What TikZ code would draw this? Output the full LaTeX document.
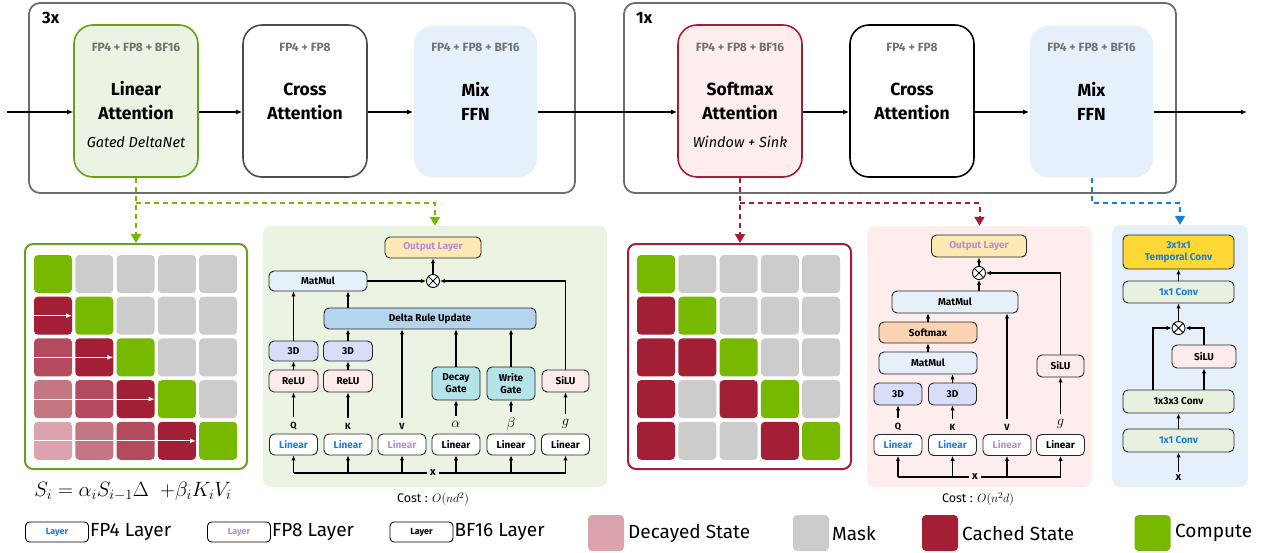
\documentclass[tikz,border=0pt]{standalone}
\usepackage{fontspec}
\setmainfont{Fira Sans}
\usepackage{tikz}
\usetikzlibrary{arrows.meta,positioning,calc}

\definecolor{nvgreen}{HTML}{76B900}
\definecolor{lagreen}{HTML}{6A9E1F}
\definecolor{lafill}{HTML}{EBF3E2}
\definecolor{sared}{HTML}{A51E36}
\definecolor{safill}{HTML}{FDEDED}
\definecolor{ffnblue}{HTML}{E6F0FB}
\definecolor{grpgray}{HTML}{6E6E6E}
\definecolor{precgray}{HTML}{727272}
\definecolor{fpblue}{HTML}{1A7FD6}
\definecolor{fplav}{HTML}{B48FD2}
\definecolor{outyel}{HTML}{FDE9B4}
\definecolor{deltablue}{HTML}{B5D4EE}
\definecolor{threed}{HTML}{D8DEF9}
\definecolor{relupink}{HTML}{FDEAEA}
\definecolor{gateteal}{HTML}{B4E3E8}
\definecolor{smorange}{HTML}{FCD4B4}
\definecolor{convgreen}{HTML}{E8F1E0}
\definecolor{tcyellow}{HTML}{FDD835}
% state colours, one letter each
\definecolor{cg}{HTML}{76B900}
\definecolor{cm}{HTML}{CCCCCC}
\definecolor{cc}{HTML}{A31F36}
\definecolor{ca}{HTML}{B44A5D}
\definecolor{cb}{HTML}{C57683}
\definecolor{cd}{HTML}{DBA3AD}

\begin{document}
\begin{tikzpicture}[x=1pt,y=-1pt,
    grpbox/.style={draw=grpgray,rounded corners=11pt,line width=1.8pt},
    block/.style={rounded corners=19pt,minimum width=124pt,minimum height=152pt,
      line width=1.6pt,align=center,inner sep=0pt,
      font=\fontsize{17.5}{24}\selectfont\bfseries},
    prectxt/.style={text=precgray,font=\fontsize{12}{13}\selectfont\bfseries},
    subtxt/.style={font=\fontsize{14.5}{15}\selectfont\itshape},
    panel/.style={rounded corners=8pt,inner sep=0pt},
    op/.style={draw=black!85,rounded corners=5pt,line width=0.9pt,inner sep=0pt,
      align=center,font=\fontsize{10}{12}\selectfont\bfseries},
    lin/.style={op,fill=white,minimum width=48pt,minimum height=21pt},
    sym/.style={inner sep=1pt,font=\fontsize{9}{9}\selectfont\bfseries},
    greek/.style={inner sep=1pt,font=\fontsize{13.5}{13}\selectfont},
    xtxt/.style={inner sep=3pt,font=\fontsize{11}{11}\selectfont\bfseries},
    costtxt/.style={font=\fontsize{12.5}{13}\selectfont},
    mul/.style={draw,circle,line width=0.9pt,inner sep=0pt,minimum size=13pt,fill=white,
      path picture={\draw[line width=0.9pt]
        (path picture bounding box.north west) -- (path picture bounding box.south east)
        (path picture bounding box.south west) -- (path picture bounding box.north east);}},
    flow/.style={line width=1.3pt,-{Latex[length=6pt,width=5pt]}},
    link/.style={line width=1.2pt,-{Latex[length=5pt,width=4.5pt]}},
    gdash/.style={line width=2pt,dash pattern=on 5pt off 4pt,-{Triangle[length=9pt,width=10pt]}},
    statecell/.style={minimum size=38pt,rounded corners=4pt,inner sep=0pt},
    swatch/.style={minimum size=36pt,rounded corners=4pt,inner sep=0pt},
    legtxt/.style={anchor=west,inner sep=1pt,font=\fontsize{19}{20}\selectfont},
    leglay/.style={draw,rounded corners=4pt,minimum width=63pt,minimum height=20pt,
      inner sep=0pt,line width=0.9pt,font=\fontsize{9}{10}\selectfont\bfseries}]
  \useasboundingbox (0,0) rectangle (1275,552);

  % the two stacks
  \draw[grpbox] (29,3) rectangle (575,193);
  \draw[grpbox] (624,3) rectangle (1176,193);
  \node[anchor=west,inner sep=0pt,font=\fontsize{16.5}{17}\selectfont\bfseries] (rep3) at (42,18) {3x};
  \node[anchor=west,inner sep=0pt,font=\fontsize{16.5}{17}\selectfont\bfseries] (rep1) at (636,18) {1x};

  \node[block,draw=lagreen,fill=lafill] (la) at (136,101) {Linear\\Attention};
  \node[block,draw=black!70,fill=white] (ca1) at (305,101) {Cross\\Attention};
  \node[block,fill=ffnblue,minimum width=123pt] (mf1) at (475.5,101.5) {Mix\\FFN};
  \node[block,draw=sared,fill=safill] (sa) at (740,101) {Softmax\\Attention};
  \node[block,draw=black,fill=white] (ca2) at (912,101) {Cross\\Attention};
  \node[block,fill=ffnblue,minimum width=123pt] (mf2) at (1091.5,101.5) {Mix\\FFN};

  \node[prectxt] (la-p) at (136,47) {FP4 + FP8 + BF16};
  \node[prectxt] (ca1-p) at (305,47) {FP4 + FP8};
  \node[prectxt] (mf1-p) at (475.5,47) {FP4 + FP8 + BF16};
  \node[prectxt] (sa-p) at (740,47) {FP4 + FP8 + BF16};
  \node[prectxt] (ca2-p) at (912,47) {FP4 + FP8};
  \node[prectxt] (mf2-p) at (1091.5,47) {FP4 + FP8 + BF16};
  \node[subtxt] (la-s) at (136,142) {Gated DeltaNet};
  \node[subtxt] (sa-s) at (740,142) {Window + Sink};

  \coordinate (in) at (7,112);
  \coordinate (out) at (1247,112);
  \draw[flow] (in) -- (la.west |- in);
  \draw[flow] (la.east |- in) -- (ca1.west |- in);
  \draw[flow] (ca1.east |- in) -- (mf1.west |- in);
  \draw[flow] (mf1.east |- in) -- (sa.west |- in);
  \draw[flow] (sa.east |- in) -- (ca2.west |- in);
  \draw[flow] (ca2.east |- in) -- (mf2.west |- in);
  \draw[flow] (mf2.east |- in) -- (out);

  % panels below
  \node[panel,fill=lafill,minimum width=344pt,minimum height=261pt] (pA) at (435,356.5) {};
  \node[panel,fill=safill,minimum width=225pt,minimum height=261pt] (pB) at (979.5,356.5) {};
  \node[panel,fill=ffnblue,minimum width=136pt,minimum height=262pt] (pC) at (1180,356) {};
  \node[draw=lagreen,line width=2pt,rounded corners=8pt,minimum width=222pt,minimum height=225pt] (gridA) at (136,356.5) {};
  \node[draw=sared,line width=2pt,rounded corners=8pt,minimum width=223pt,minimum height=225pt] (gridB) at (739.5,356.5) {};

  \coordinate (gsplit) at (136,203);
  \coordinate (rsplit) at (740,203);
  \coordinate (bsplit) at (1091.5,203);
  \draw[gdash,nvgreen] (la.south) -- (gridA.north);
  \draw[gdash,nvgreen] (gsplit) -| (pA.north);
  \draw[gdash,sared] (sa.south) -- (sa.south |- gridB.north);
  \draw[gdash,sared] (rsplit) -| (pB.north);
  \draw[gdash,fpblue] (mf2.south) -- (bsplit) -| (pC.north);

  % state grids
  \foreach \row [count=\r from 0] in {{g,m,m,m,m},{c,g,m,m,m},{a,c,g,m,m},{b,a,c,g,m},{d,b,a,c,g}}
    \foreach \k [count=\c from 0] in \row
      \node[statecell,fill=c\k] (sA-\r-\c) at ({53+\c*41.3},{274+\r*41.7}) {};
  \foreach \r in {1,...,4}
    \draw[white,line width=1.2pt,-{Latex[length=6pt,width=5pt]},shorten >=3pt] (sA-\r-0.west) -- (sA-\r-\r.west);
  \foreach \row [count=\r from 0] in {{g,m,m,m,m},{c,g,m,m,m},{c,c,g,m,m},{c,m,c,g,m},{c,m,m,c,g}}
    \foreach \k [count=\c from 0] in \row
      \node[statecell,fill=c\k] (sB-\r-\c) at ({656+\c*41.3},{274+\r*41.7}) {};
  \node[font=\fontsize{21}{22}\selectfont] (eqA) at (133,491) {$S_i = \alpha_i S_{i-1}\Delta\ \ {+\beta_i} K_i V_i$};

  % gated deltanet
  \node[op,fill=outyel,text=fplav,minimum width=96pt,minimum height=21pt] (outA) at (433,247.5) {Output Layer};
  \node[mul] (xA) at (433,281) {};
  \node[op,fill=ffnblue,minimum width=98pt,minimum height=20pt] (mmA) at (318,281) {MatMul};
  \node[op,fill=deltablue,minimum width=212pt,minimum height=21pt] (drA) at (430,318.5) {Delta Rule Update};
  \node[op,fill=threed,minimum width=49pt,minimum height=20pt] (tqA) at (293.5,351) {3D};
  \node[op,fill=threed,minimum width=49pt,minimum height=20pt] (tkA) at (348,351) {3D};
  \node[op,fill=relupink,minimum width=49pt,minimum height=22pt] (rqA) at (293.5,381) {ReLU};
  \node[op,fill=relupink,minimum width=49pt,minimum height=22pt] (rkA) at (348,381) {ReLU};
  \node[op,fill=gateteal,minimum width=48pt,minimum height=33pt] (dgA) at (456,383.5) {Decay\\Gate};
  \node[op,fill=gateteal,minimum width=48pt,minimum height=33pt] (wgA) at (511,383.5) {Write\\Gate};
  \node[op,fill=relupink,minimum width=47pt,minimum height=22pt] (siA) at (565.5,381) {SiLU};
  \node[sym] (qA) at (293.5,426) {Q};
  \node[sym] (kA) at (348,426) {K};
  \node[sym] (vA) at (402,426) {V};
  \node[greek] (alA) at (456,424) {$\alpha$};
  \node[greek] (beA) at (511,424) {$\beta$};
  \node[greek] (gA) at (565.5,424) {$g$};
  \node[lin,text=fpblue] (lqA) at (293.5,444.5) {Linear};
  \node[lin,text=fpblue] (lkA) at (348,444.5) {Linear};
  \node[lin,text=fplav] (lvA) at (402,444.5) {Linear};
  \node[lin] (laA) at (456,444.5) {Linear};
  \node[lin] (lbA) at (511,444.5) {Linear};
  \node[lin] (lgA) at (565.5,444.5) {Linear};
  \node[xtxt] (xlA) at (433,473) {x};
  \node[costtxt] (costA) at (433,499) {Cost : $O(nd^2)$};

  \draw[line width=1.2pt] (lqA.south |- xlA) -- (xlA) -- (lgA.south |- xlA);
  \foreach \n in {lqA,lkA,lvA,laA,lbA,lgA}
    \draw[link] (\n.south |- xlA) -- (\n);
  \draw[link,shorten <=4pt] (qA) -- (rqA);
  \draw[link,shorten <=4pt] (kA) -- (rkA);
  \draw[link,shorten <=4pt] (vA) -- (drA.south -| vA);
  \draw[link,shorten <=4pt] (alA) -- (dgA);
  \draw[link,shorten <=4pt] (beA) -- (wgA);
  \draw[link,shorten <=4pt] (gA) -- (siA);
  \draw[link] (rqA) -- (tqA);
  \draw[link] (rkA) -- (tkA);
  \draw[link] (tqA) -- (mmA.south -| tqA);
  \draw[link] (tkA) -- (drA.south -| tkA);
  \draw[link] (drA.north -| tkA) -- (mmA.south -| tkA);
  \draw[link] (dgA) -- (drA.south -| dgA);
  \draw[link] (wgA) -- (drA.south -| wgA);
  \draw[link] (siA) |- (xA);
  \draw[link] (mmA) -- (xA);
  \draw[link] (xA) -- (outA);

  % softmax attention
  \node[op,fill=outyel,text=fplav,minimum width=95pt,minimum height=22pt] (outB) at (979,246) {Output Layer};
  \node[mul] (xB) at (979,273) {};
  \node[op,fill=ffnblue,minimum width=126pt,minimum height=22pt] (mmtB) at (955,302) {MatMul};
  \node[op,fill=smorange,minimum width=98pt,minimum height=21pt] (smB) at (928,332.5) {Softmax};
  \node[op,fill=ffnblue,minimum width=98pt,minimum height=22pt] (mmlB) at (928,363) {MatMul};
  \node[op,fill=threed,minimum width=48pt,minimum height=22pt] (tqB) at (898,394) {3D};
  \node[op,fill=threed,minimum width=48pt,minimum height=22pt] (tkB) at (952.5,394) {3D};
  \node[op,fill=relupink,minimum width=47pt,minimum height=22pt] (siB) at (1060.5,366) {SiLU};
  \node[sym] (qB) at (898,427) {Q};
  \node[sym] (kB) at (952.5,427) {K};
  \node[sym] (vB) at (1007,427) {V};
  \node[greek] (gB) at (1060.5,424) {$g$};
  \node[lin,text=fpblue] (lqB) at (898,445) {Linear};
  \node[lin,text=fpblue] (lkB) at (952.5,445) {Linear};
  \node[lin,text=fplav] (lvB) at (1007,445) {Linear};
  \node[lin] (lgB) at (1060.5,445) {Linear};
  \node[xtxt] (xlB) at (975,477) {x};
  \node[costtxt] (costB) at (978,499) {Cost : $O(n^2d)$};

  \draw[line width=1.2pt] (lqB.south |- xlB) -- (xlB) -- (lgB.south |- xlB);
  \foreach \n in {lqB,lkB,lvB,lgB}
    \draw[link] (\n.south |- xlB) -- (\n);
  \draw[link,shorten <=4pt] (qB) -- (tqB);
  \draw[link,shorten <=4pt] (kB) -- (tkB);
  \draw[link,shorten <=4pt] (vB) -- (mmtB.south -| vB);
  \draw[link,shorten <=4pt] (gB) -- (siB);
  \draw[link] (tkB) -- (mmlB.south -| tkB);
  \draw[link] (mmlB) -- (smB);
  \draw[link] (smB) -- (mmtB.south -| smB);
  \draw[link] (siB) |- (xB);
  \draw[link] (mmtB.north -| xB) -- (xB);
  \draw[link] (xB) -- (outB);

  % mix ffn
  \node[op,fill=tcyellow,text=fpblue,minimum width=111pt,minimum height=34pt] (tcC) at (1178.5,252) {3x1x1\\Temporal Conv};
  \node[op,fill=convgreen,text=fpblue,minimum width=111pt,minimum height=22pt] (ctC) at (1178.5,292) {1x1 Conv};
  \node[mul] (xC) at (1178.5,328) {};
  \node[op,fill=relupink,minimum width=64pt,minimum height=23pt] (siC) at (1204,356.5) {SiLU};
  \node[op,fill=convgreen,minimum width=111pt,minimum height=23pt] (cmC) at (1178.5,401.5) {1x3x3 Conv};
  \node[op,fill=convgreen,text=fpblue,minimum width=111pt,minimum height=23pt] (cbC) at (1178.5,440.5) {1x1 Conv};
  \node[xtxt] (xlC) at (1178.5,478) {x};
  \coordinate (brC) at (1153,390);

  \draw[link] (xlC) -- (cbC);
  \draw[link] (cbC) -- (cmC);
  \draw[link] (brC) |- (xC);
  \draw[link] (cmC.north -| siC) -- (siC);
  \draw[link] (siC) |- (xC);
  \draw[link] (xC) -- (ctC);
  \draw[link] (ctC) -- (tcC);

  % legend
  \node[leglay,text=fpblue] (lg4) at (57,532) {Layer};
  \node[legtxt] (lg4-t) at (lg4.east) {FP4 Layer};
  \node[leglay,text=fplav] (lg8) at (239,532) {Layer};
  \node[legtxt] (lg8-t) at (lg8.east) {FP8 Layer};
  \node[leglay] (lg16) at (421.5,532) {Layer};
  \node[legtxt] (lg16-t) at (lg16.east) {BF16 Layer};
  \node[swatch,fill=cd] (swd) at (606,533) {};
  \node[legtxt] (swd-t) at (627,533) {Decayed State};
  \node[swatch,fill=cm] (swm) at (811,533) {};
  \node[legtxt] (swm-t) at (831,533) {Mask};
  \node[swatch,fill=cc] (swc) at (940,533) {};
  \node[legtxt] (swc-t) at (961,533) {Cached State};
  \node[swatch,fill=cg] (swg) at (1152.5,533) {};
  \node[legtxt] (swg-t) at (1174,533) {Compute};
\end{tikzpicture}
\end{document}
